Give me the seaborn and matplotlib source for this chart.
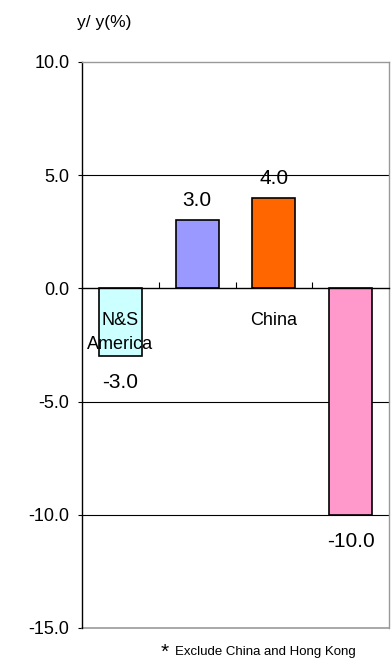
import matplotlib
matplotlib.use("Agg")
import matplotlib.pyplot as plt
import seaborn as sns
import pandas as pd

# Regional growth, year on year (%)
categories = ["N&S\nAmerica", "", "China", ""]
values = [-3.0, 3.0, 4.0, -10.0]
colors = ["#CCFFFF", "#9999FF", "#FF6600", "#FF99CC"]
y_ticks = [10.0, 5.0, 0.0, -5.0, -10.0, -15.0]

df = pd.DataFrame({"region": [f"r{i}" for i in range(len(values))],
                   "value": values})

sns.set_theme(style="white")
plt.rcParams["font.family"] = ["Liberation Sans", "DejaVu Sans"]
plt.rcParams["text.color"] = "black"
plt.rcParams["ytick.color"] = "black"
plt.rcParams["xtick.color"] = "black"

fig = plt.figure(figsize=(3.92, 6.6), dpi=100)
ax = fig.add_axes([82 / 392, 1 - 628 / 660, 307 / 392, 566 / 660])

sns.barplot(data=df, x="region", y="value", hue="region", palette=colors,
            legend=False, width=0.56, saturation=1, edgecolor="black",
            linewidth=1.2, ax=ax, zorder=3)

ax.set_ylim(-15, 10)
ax.set_xlim(-0.5, len(values) - 0.5)
ax.set_yticks(y_ticks)
ax.set_yticklabels([f"{t:.1f}" for t in y_ticks], fontsize=13, color="black")
ax.set_xlabel("")
ax.set_ylabel("")
ax.set_xticks([])

# horizontal reference lines
for t in [5.0, -5.0, -10.0]:
    ax.axhline(t, color="black", lw=0.8, zorder=1)

# frame: black left spine, grey others; the zero line is the category axis
ax.spines["left"].set_color("black")
ax.spines["left"].set_linewidth(1.0)
for s in ["top", "right"]:
    ax.spines[s].set_color("#999999")
    ax.spines[s].set_linewidth(1.0)
ax.spines["bottom"].set_position(("data", 0))
ax.spines["bottom"].set_color("black")
ax.spines["bottom"].set_linewidth(1.0)
ax.spines["bottom"].set_zorder(4)
ax.axhline(-15, color="#999999", lw=1.2, clip_on=False, zorder=2)

# category separators on the zero line
ax.set_xticks([0.5, 1.5, 2.5], minor=True)
ax.tick_params(axis="x", which="minor", direction="in", length=4,
               width=0.8, color="black", bottom=True)
ax.tick_params(axis="y", which="major", direction="out", length=3,
               width=0.8, color="black", left=True, pad=6)

# category names just below the zero line
for i, name in enumerate(categories):
    if name:
        ax.annotate(name, xy=(i, 0), xytext=(0, -24),
                    textcoords="offset pixels", ha="center", va="top",
                    fontsize=13, linespacing=1.5, zorder=5)

# value labels
for i, v in enumerate(values):
    if v >= 0:
        ax.annotate(f"{v:.1f}", xy=(i, v), xytext=(0, 10),
                    textcoords="offset pixels", ha="center", va="bottom",
                    fontsize=15, zorder=5)
    else:
        ax.annotate(f"{v:.1f}", xy=(i, v), xytext=(0, -17),
                    textcoords="offset pixels", ha="center", va="top",
                    fontsize=15, zorder=5)

fig.text(104 / 392, 1 - 22 / 660, "y/ y(%)", ha="center", va="center",
         fontsize=12.5)
fig.text(165 / 392, 1 - 652 / 660, "*", ha="center", va="center",
         fontsize=15)
fig.text(175 / 392, 1 - 652 / 660, "Exclude China and Hong Kong",
         ha="left", va="center", fontsize=9.5)

fig.savefig("out.png", dpi=100)
